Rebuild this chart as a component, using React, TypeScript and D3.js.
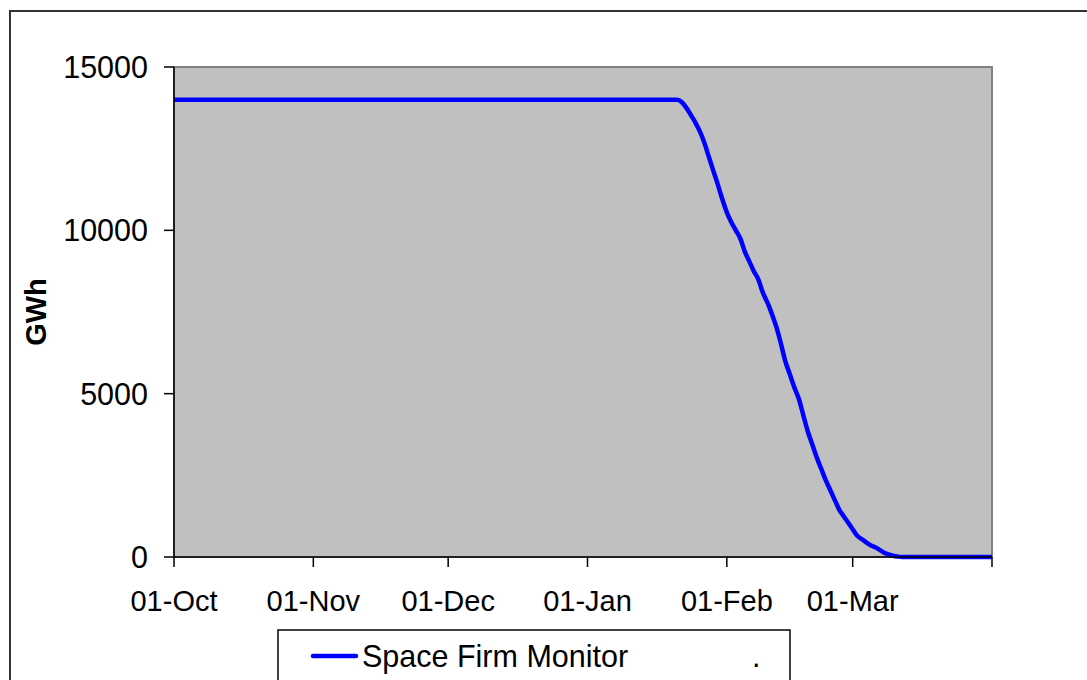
import React from "react";
import * as d3 from "d3";

const flatDates = ["2006-10-01", "2006-11-01", "2006-12-01", "2007-01-01", "2007-01-20"];
const flatValues = [14000, 14000, 14000, 14000, 14000];

const dropDates = [
  "2007-01-21", "2007-01-22", "2007-01-23", "2007-01-24", "2007-01-25", "2007-01-26", "2007-01-27",
  "2007-01-28", "2007-01-29", "2007-01-30", "2007-01-31", "2007-02-01", "2007-02-02", "2007-02-03",
  "2007-02-04", "2007-02-05", "2007-02-06", "2007-02-07", "2007-02-08", "2007-02-09", "2007-02-10",
  "2007-02-11", "2007-02-12", "2007-02-13", "2007-02-14", "2007-02-15", "2007-02-16", "2007-02-17",
  "2007-02-18", "2007-02-19", "2007-02-20", "2007-02-21", "2007-02-22", "2007-02-23", "2007-02-24",
  "2007-02-25", "2007-02-26", "2007-02-27", "2007-02-28", "2007-03-01", "2007-03-02", "2007-03-03",
  "2007-03-04", "2007-03-05", "2007-03-06", "2007-03-07", "2007-03-08", "2007-03-09", "2007-03-10",
  "2007-03-11", "2007-03-12", "2007-03-20", "2007-04-01",
];
const dropValues = [
  14000, 13920, 13750, 13530, 13300, 13030, 12680,
  12250, 11820, 11400, 10950, 10550, 10250, 10000,
  9750, 9350, 9050, 8750, 8500, 8100, 7800,
  7450, 7050, 6550, 6000, 5600, 5200, 4850,
  4350, 3850, 3450, 3050, 2700, 2350, 2050,
  1750, 1450, 1250, 1050, 850, 650, 550,
  450, 360, 300, 220, 130, 80, 40,
  15, 0, 0, 0,
];

const xTickDates = ["2006-10-01", "2006-11-01", "2006-12-01", "2007-01-01", "2007-02-01", "2007-03-01", "2007-04-01"];
const xTickLabels = ["01-Oct", "01-Nov", "01-Dec", "01-Jan", "01-Feb", "01-Mar", ""];
const yTicks = [0, 5000, 10000, 15000];
const seriesName = "Space Firm Monitor";

const parse = d3.utcParse("%Y-%m-%d");

export default function App() {
  const W = 1087, H = 680;
  const left = 174, right = 992, top = 67, bottom = 557;
  const x = d3.scaleUtc().domain([parse("2006-10-01")!, parse("2007-04-01")!]).range([left, right]);
  const y = d3.scaleLinear().domain([0, 15000]).range([bottom, top]);

  const pts: [Date, number][] = [
    ...flatDates.map((d, i) => [parse(d)!, flatValues[i]] as [Date, number]),
    ...dropDates.map((d, i) => [parse(d)!, dropValues[i]] as [Date, number]),
  ];
  const line = d3.line<[Date, number]>().x((d) => x(d[0])).y((d) => y(d[1])).curve(d3.curveMonotoneX);
  const font = "'Liberation Sans', Arial, sans-serif";

  return (
    <svg width={W} height={H} style={{ position: "absolute", left: 0, top: 0 }} fontFamily={font}>
      <rect x={0} y={0} width={W} height={H} fill="#fff" />
      <rect x={10} y={11} width={W + 10} height={H + 10} fill="none" stroke="#333" strokeWidth={2} />
      <rect x={left} y={top} width={right - left} height={bottom - top} fill="#c0c0c0" stroke="#808080" strokeWidth={2} />
      <path d={line(pts)!} fill="none" stroke="#0000ff" strokeWidth={4.5} strokeLinejoin="round" />
      <line x1={left} x2={left} y1={top} y2={bottom} stroke="#000" strokeWidth={1.5} />
      <line x1={left} x2={right} y1={bottom} y2={bottom} stroke="#000" strokeWidth={1.5} />
      {yTicks.map((t) => (
        <g key={t}>
          <line x1={left - 10} x2={left} y1={y(t)} y2={y(t)} stroke="#000" strokeWidth={1.5} />
          <text x={148} y={y(t) + 11} textAnchor="end" fontSize={30.5} fill="#000">{t}</text>
        </g>
      ))}
      {xTickDates.map((d, i) => (
        <g key={d}>
          <line x1={x(parse(d)!)} x2={x(parse(d)!)} y1={bottom} y2={bottom + 10} stroke="#000" strokeWidth={1.5} />
          <text x={x(parse(d)!)} y={611} textAnchor="middle" fontSize={29} fill="#000">{xTickLabels[i]}</text>
        </g>
      ))}
      <text transform={`translate(46,312) rotate(-90)`} textAnchor="middle" fontSize={29} fontWeight="bold" fill="#000">GWh</text>
      <rect x={278} y={630} width={512} height={80} fill="#fff" stroke="#000" strokeWidth={1.5} />
      <line x1={313} x2={356} y1={656} y2={656} stroke="#0000ff" strokeWidth={4.5} strokeLinecap="round" />
      <text x={362} y={667} fontSize={30.5} fill="#000">{seriesName}</text>
      <text x={752} y={667} fontSize={30.5} fill="#000">.</text>
    </svg>
  );
}
